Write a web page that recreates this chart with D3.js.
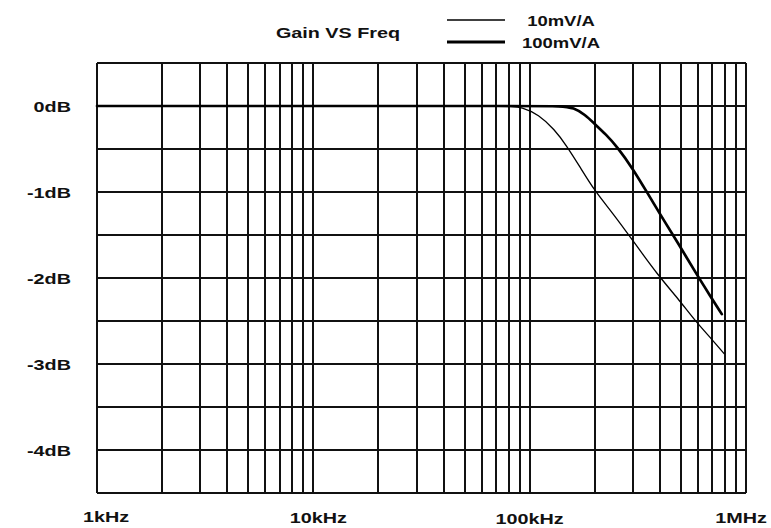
<!doctype html>
<html>
<head>
    <meta charset="utf-8">
    <title>Gain VS Freq</title>
    <style type="text/css">
    body {
        margin: 0;
        background: #fff;
    }

    svg text {
        font-family: "Liberation Sans", Arial, sans-serif;
        font-weight: bold;
        fill: #111;
    }

    .grid line {
        stroke: #111;
        stroke-width: 2;
        shape-rendering: crispEdges;
    }

    .curve {
        fill: none;
        stroke: #000;
        stroke-linejoin: round;
        stroke-linecap: round;
    }
    </style>
</head>
<body>
<div class="graph-container"></div>
<script src="https://cdnjs.cloudflare.com/ajax/libs/d3/7.8.5/d3.min.js"></script>
<script type="text/javascript">
// Frequencies in kHz, gain in dB
var freq10 = [1, 10, 80, 92, 110, 130, 148, 170, 200, 243, 293, 392, 486, 582, 700, 792];
var gain10 = [0, 0, 0, -0.01, -0.1, -0.27, -0.46, -0.7, -0.99, -1.25, -1.53, -1.97, -2.24, -2.5, -2.72, -2.88];

var freq100 = [1, 10, 100, 140, 160, 180, 200, 225, 253, 300, 348, 410, 479, 592, 680, 773];
var gain100 = [0, 0, 0, 0, -0.02, -0.1, -0.21, -0.33, -0.47, -0.73, -1.0, -1.3, -1.57, -1.96, -2.2, -2.42];

var yTicks = [0, -1, -2, -3, -4];
var yTickLabels = ["0dB", "-1dB", "-2dB", "-3dB", "-4dB"];
var xTicks = [1, 10, 100, 1000];
var xTickLabels = ["1kHz", "10kHz", "100kHz", "1MHz"];
var seriesNames = ["10mV/A", "100mV/A"];

var width = 771,
    height = 528;

var margin = { top: 63, right: 25, bottom: 35, left: 97 };

var svg = d3.select(".graph-container").append("svg")
    .attr("width", width)
    .attr("height", height);

// Scales
var x = d3.scaleLog()
    .domain([1, 1000])
    .range([margin.left, width - margin.right]);
var y = d3.scaleLinear()
    .domain([0.5, -4.5])
    .range([margin.top, height - margin.bottom]);

// Text in the picture is wider than the font, so stretch it a bit
var stretch = 1.32;

function label(g, px, py, txt, anchor, size) {
    g.append("text")
        .attr("transform", "translate(" + px + "," + py + ") scale(" + stretch + ",1)")
        .attr("text-anchor", anchor)
        .style("font-size", size + "px")
        .text(txt);
}

// Log grid: 1..9 in each decade
var vLines = [];
[1, 10, 100].forEach(function(dec) {
    for (var k = 1; k < 10; k++) vLines.push(dec * k);
});
vLines.push(1000);

var hLines = d3.range(0.5, -4.51, -0.5);

var grid = svg.append("g").attr("class", "grid");

grid.selectAll(".v")
    .data(vLines)
    .enter().append("line")
    .attr("x1", function(d) { return x(d); })
    .attr("x2", function(d) { return x(d); })
    .attr("y1", y(0.5))
    .attr("y2", y(-4.5));

grid.selectAll(".h")
    .data(hLines)
    .enter().append("line")
    .attr("x1", x(1))
    .attr("x2", x(1000))
    .attr("y1", function(d) { return y(d); })
    .attr("y2", function(d) { return y(d); });

// Axis labels
var axisG = svg.append("g");
yTicks.forEach(function(t, i) {
    label(axisG, 71, y(t) + 5.5, yTickLabels[i], "end", 15);
});

var xLabelDx = [9, 5, 0, -5];
var xLabelY = [522, 523, 524, 523];
xTicks.forEach(function(t, i) {
    label(axisG, x(t) + xLabelDx[i], xLabelY[i], xTickLabels[i], "middle", 15);
});

// Curves (smoothed through the read points)
var line = d3.line()
    .x(function(d) { return x(d[0]); })
    .y(function(d) { return y(d[1]); })
    .curve(d3.curveBasis);

svg.append("path")
    .datum(d3.zip(freq10, gain10))
    .attr("class", "curve")
    .attr("stroke-width", 1.3)
    .attr("d", line);

svg.append("path")
    .datum(d3.zip(freq100, gain100))
    .attr("class", "curve")
    .attr("stroke-width", 2.7)
    .attr("d", line);

// Title and legend
label(svg, 338, 38, "Gain VS Freq", "middle", 15);

var legend = svg.append("g");
var widths = [1.5, 3];
[20, 42].forEach(function(ly, i) {
    legend.append("line")
        .attr("x1", 447).attr("x2", 505)
        .attr("y1", ly).attr("y2", ly)
        .attr("stroke", "#000")
        .attr("stroke-width", widths[i]);
    label(legend, 561, ly + 6, seriesNames[i], "middle", 14);
});
</script>
</body>
</html>
